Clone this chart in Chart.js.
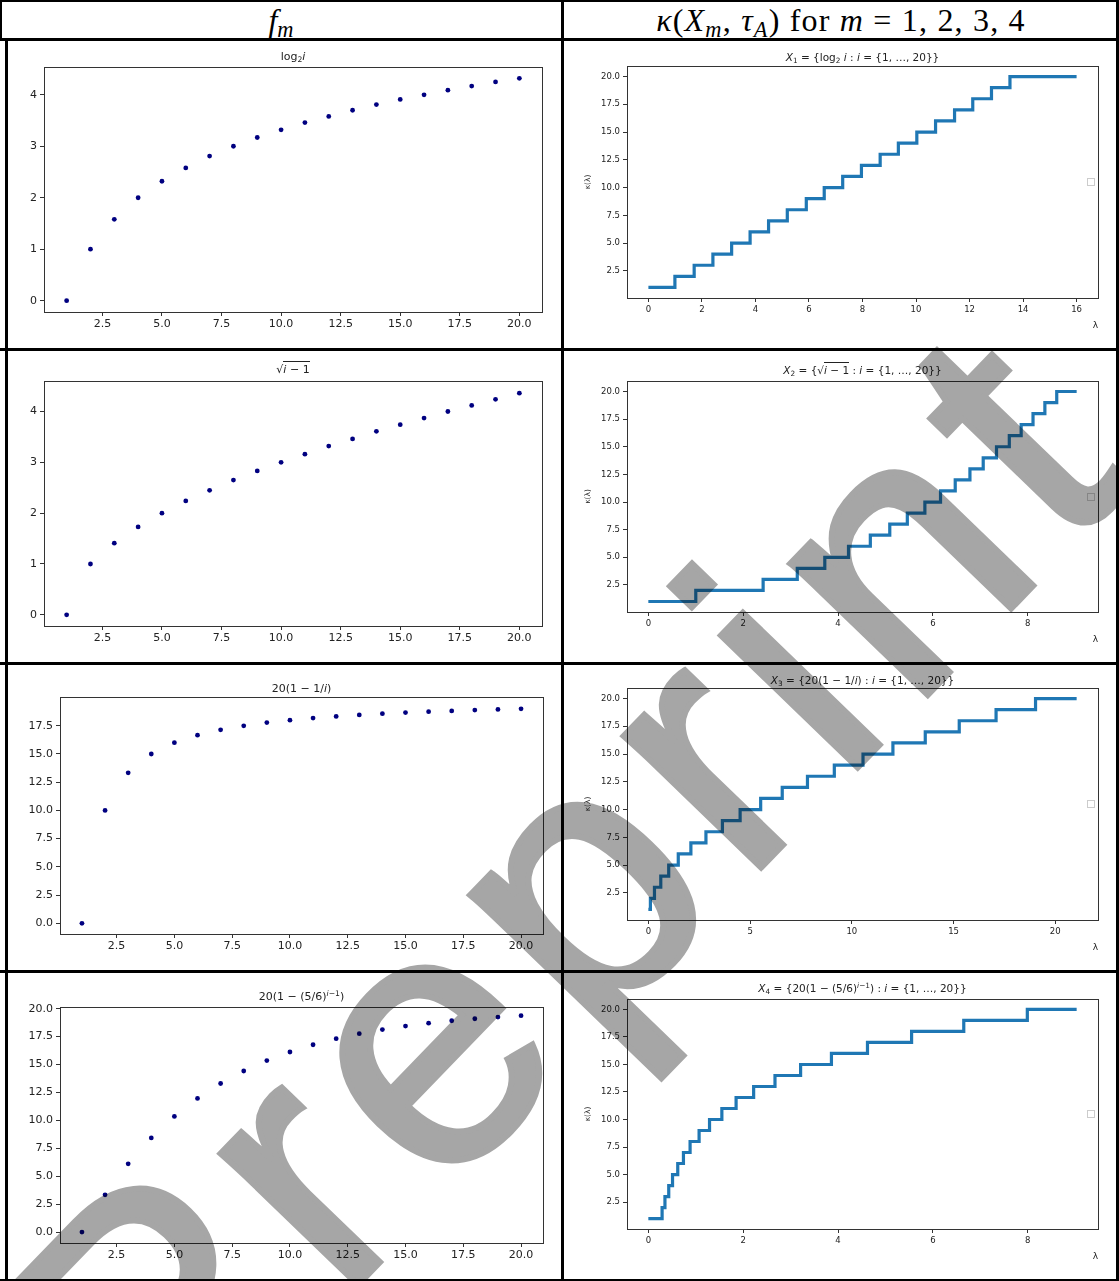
<!DOCTYPE html>
<html>
<head>
<meta charset="utf-8">
<title>f_m and kappa(X_m, tau_A)</title>
<script src="https://cdn.jsdelivr.net/npm/chart.js@4.4.1/dist/chart.umd.min.js"></script>
<style>
  html, body { margin: 0; padding: 0; background: #fff; }
  #page { position: relative; width: 1119px; height: 1281px; overflow: hidden; }
  #page canvas { position: absolute; }
  .rule { position: absolute; background: #000; }
  .hdr { position: absolute; top: 0; height: 40px; line-height: 40px; text-align: center;
         font-family: "Liberation Serif", serif; font-size: 32px; color: #000; }
  .hdr sub { font-size: 0.7em; vertical-align: -0.25em; line-height: 0; }
  .ttl { position: absolute; height: 14px; line-height: 14px; text-align: center; white-space: nowrap;
         font-family: "DejaVu Sans", sans-serif; color: #222; }
  .ttl sub, .ttl sup { font-size: 0.7em; line-height: 0; }
  .ttl sub { vertical-align: -0.3em; }
  .ttl sup { vertical-align: 0.55em; }
  .ov { border-top: 1px solid #222; padding-top: 1px; }
  #wm { position: absolute; left: 0; top: 0; pointer-events: none; mix-blend-mode: multiply; }
</style>
</head>
<body>
<div id="page">
  <div class="hdr" style="left:0;width:562px"><i>f</i><sub><i>m</i></sub></div>
  <div class="hdr" style="left:563px;width:556px;letter-spacing:1.2px"><i>κ</i>(<i>X</i><sub><i>m</i></sub>, <i>τ</i><sub><i>A</i></sub>) for <i>m</i> = 1, 2, 3, 4</div>
</div>
<script>
// index i and the four sequences f_m(i)
const iValues = [1, 2, 3, 4, 5, 6, 7, 8, 9, 10, 11, 12, 13, 14, 15, 16, 17, 18, 19, 20];
const fLog2 = [0, 1, 1.58, 2, 2.32, 2.58, 2.81, 3, 3.17, 3.32, 3.46, 3.58, 3.70, 3.81, 3.91, 4, 4.09, 4.17, 4.25, 4.32];
const fSqrt = [0, 1, 1.41, 1.73, 2, 2.24, 2.45, 2.65, 2.83, 3, 3.16, 3.32, 3.46, 3.61, 3.74, 3.87, 4, 4.12, 4.24, 4.36];
const fInv = [0, 10, 13.33, 15, 16, 16.67, 17.14, 17.5, 17.78, 18, 18.18, 18.33, 18.46, 18.57, 18.67, 18.75, 18.82, 18.89, 18.95, 19];
const fGeom = [0, 3.33, 6.11, 8.43, 10.35, 11.96, 13.30, 14.42, 15.35, 16.12, 16.77, 17.31, 17.76, 18.13, 18.44, 18.70, 18.92, 19.10, 19.25, 19.37];

// kappa(lambda) step curves: lambda where each level starts, and where the curve ends
const kappaLevels = [1, 2, 3, 4, 5, 6, 7, 8, 9, 10, 11, 12, 13, 14, 15, 16, 17, 18, 19, 20];
const stepsX1 = [0, 0.99, 1.71, 2.41, 3.11, 3.80, 4.49, 5.19, 5.90, 6.57, 7.26, 7.96, 8.66, 9.34, 10.03, 10.73, 11.44, 12.12, 12.82, 13.51];
const stepsX2 = [0, 1.00, 2.42, 3.14, 3.72, 4.22, 4.68, 5.09, 5.46, 5.83, 6.16, 6.47, 6.78, 7.06, 7.34, 7.61, 7.86, 8.11, 8.36, 8.61];
const stepsX3 = [0, 0.10, 0.30, 0.61, 1.0, 1.47, 2.09, 2.83, 3.64, 4.51, 5.52, 6.58, 7.82, 9.14, 10.55, 12.02, 13.61, 15.28, 17.09, 19.03];
const stepsX4 = [0, 0.29, 0.35, 0.43, 0.51, 0.62, 0.74, 0.88, 1.07, 1.29, 1.55, 1.85, 2.22, 2.67, 3.21, 3.86, 4.62, 5.55, 6.65, 7.99];
const lambdaEnd = [16.0, 9.03, 21.05, 9.03];

// tick labels
const xTicksLeft = [2.5, 5, 7.5, 10, 12.5, 15, 17.5, 20];
const yTicksLog = [0, 1, 2, 3, 4];
const yTicksInv = [0, 2.5, 5, 7.5, 10, 12.5, 15, 17.5];
const yTicksGeom = [0, 2.5, 5, 7.5, 10, 12.5, 15, 17.5, 20];
const yTicksKappa = [2.5, 5, 7.5, 10, 12.5, 15, 17.5, 20];
const xTicksR1 = [0, 2, 4, 6, 8, 10, 12, 14, 16];
const xTicksR2 = [0, 2, 4, 6, 8];
const xTicksR3 = [0, 5, 10, 15, 20];

const page = document.getElementById('page');

// table rules
[[0, 0, 1119, 2], [0, 38, 1119, 3], [0, 348, 1119, 3], [0, 662, 1119, 3], [0, 970, 1119, 3], [0, 1279, 1119, 2],
 [0, 0, 2, 41], [5, 38, 3, 1243], [561, 0, 3, 1281], [1116, 0, 3, 1281]].forEach(r => {
  const d = document.createElement('div');
  d.className = 'rule';
  d.style.cssText = `left:${r[0]}px;top:${r[1]}px;width:${r[2]}px;height:${r[3]}px`;
  page.appendChild(d);
});

const frame = {
  id: 'frame',
  afterDraw(chart, args, opts) {
    const { ctx, chartArea: a } = chart;
    ctx.save();
    ctx.strokeStyle = '#333';
    ctx.lineWidth = 1;
    ctx.strokeRect(Math.round(a.left) + 0.5, Math.round(a.top) + 0.5, Math.round(a.right - a.left), Math.round(a.bottom - a.top));
    if (opts.legendBox) {
      // empty matplotlib legend
      const cy = Math.round((a.top + a.bottom) / 2);
      ctx.strokeStyle = '#cccccc';
      ctx.strokeRect(Math.round(a.right) - 10.5, cy - 3.5, 7, 7);
    }
    ctx.restore();
  }
};

const panels = [
  { box: [9, 42, 551, 305], area: [44, 67, 542, 312], titleY: 57, title: 'log<sub>2</sub><i>i</i>',
    y: fLog2, xr: [0.05, 20.95], yr: [-0.22, 4.54], xt: xTicksLeft, yt: yTicksLog, yd: 0 },
  { box: [9, 351, 551, 310], area: [44, 381, 542, 626], titleY: 370, title: '√<span class="ov"><i>i</i> − 1</span>',
    y: fSqrt, xr: [0.05, 20.95], yr: [-0.22, 4.6], xt: xTicksLeft, yt: yTicksLog, yd: 0 },
  { box: [9, 665, 551, 304], area: [60, 697, 543, 934], titleY: 689, title: '20(1 − 1/<i>i</i>)',
    y: fInv, xr: [0.05, 20.95], yr: [-0.95, 20.05], xt: xTicksLeft, yt: yTicksInv, yd: 1 },
  { box: [9, 973, 551, 305], area: [60, 1007, 543, 1243], titleY: 997, title: '20(1 − (5/6)<sup><i>i</i>−1</sup>)',
    y: fGeom, xr: [0.05, 20.95], yr: [-0.98, 20.15], xt: xTicksLeft, yt: yTicksGeom, yd: 1 },
  { box: [565, 42, 550, 305], area: [627, 66, 1098, 298], titleY: 57, step: stepsX1, end: lambdaEnd[0],
    title: '<i>X</i><sub>1</sub> = {log<sub>2</sub> <i>i</i> :  <i>i</i> = {1, …, 20}}',
    xr: [-0.8, 16.8], xt: xTicksR1 },
  { box: [565, 351, 550, 310], area: [627, 381, 1098, 612], titleY: 370, step: stepsX2, end: lambdaEnd[1],
    title: '<i>X</i><sub>2</sub> = {√<span class="ov"><i>i</i> − 1</span> :  <i>i</i> = {1, …, 20}}',
    xr: [-0.45, 9.48], xt: xTicksR2 },
  { box: [565, 665, 550, 304], area: [627, 688, 1098, 920], titleY: 680, step: stepsX3, end: lambdaEnd[2],
    title: '<i>X</i><sub>3</sub> = {20(1 − 1/<i>i</i>) : <i>i</i> = {1, …, 20}}',
    xr: [-1.05, 22.1], xt: xTicksR3 },
  { box: [565, 973, 550, 305], area: [627, 999, 1098, 1229], titleY: 988, step: stepsX4, end: lambdaEnd[3],
    title: '<i>X</i><sub>4</sub> = {20(1 − (5/6)<sup><i>i</i>−1</sup>) : <i>i</i> = {1, …, 20}}',
    xr: [-0.45, 9.48], xt: xTicksR2 }
];

panels.forEach(p => {
  const isStep = !!p.step;
  const cv = document.createElement('canvas');
  cv.width = p.box[2];
  cv.height = p.box[3];
  cv.style.left = p.box[0] + 'px';
  cv.style.top = p.box[1] + 'px';
  page.appendChild(cv);

  const xH = isStep ? 34 : 22;
  const yW = p.area[0] - p.box[0];
  const tickFont = { family: 'DejaVu Sans', size: isStep ? 8.5 : 11 };
  const grid = { display: true, drawOnChartArea: false, drawTicks: true, tickLength: 4, color: '#333' };

  let data;
  if (isStep) {
    const pts = p.step.map((x, k) => ({ x: x, y: kappaLevels[k] }));
    pts.push({ x: p.end, y: kappaLevels[kappaLevels.length - 1] });
    data = { datasets: [{ data: pts, stepped: 'before', borderColor: '#1f77b4', borderWidth: 3.2,
      borderCapStyle: 'butt', borderJoinStyle: 'miter', pointRadius: 0, fill: false }] };
  } else {
    data = { datasets: [{ data: iValues.map((v, k) => ({ x: v, y: p.y[k] })),
      backgroundColor: '#000080', borderWidth: 0, pointRadius: 2.4 }] };
  }

  new Chart(cv, {
    type: isStep ? 'line' : 'scatter',
    data: data,
    plugins: [frame],
    options: {
      responsive: false,
      animation: false,
      events: [],
      layout: { padding: { left: 0, top: p.area[1] - p.box[1],
        right: p.box[0] + p.box[2] - p.area[2],
        bottom: p.box[1] + p.box[3] - p.area[3] - xH } },
      plugins: { legend: { display: false }, tooltip: { enabled: false }, frame: { legendBox: isStep } },
      scales: {
        x: {
          type: 'linear', min: p.xr[0], max: p.xr[1],
          grid: grid, border: { display: false },
          ticks: { font: tickFont, color: '#222', padding: isStep ? 3 : 2, autoSkip: false, maxRotation: 0,
            callback: v => isStep ? String(v) : v.toFixed(1) },
          title: { display: isStep, text: 'λ', align: 'end', color: '#222',
            font: { family: 'DejaVu Sans', size: 9 }, padding: { top: 0, bottom: 1 } },
          afterBuildTicks: s => { s.ticks = p.xt.map(v => ({ value: v })); },
          afterFit: s => { s.height = xH; s.paddingLeft = 0; s.paddingRight = 0; }
        },
        y: {
          type: 'linear', min: isStep ? 0.05 : p.yr[0], max: isStep ? 20.95 : p.yr[1],
          grid: grid, border: { display: false },
          ticks: { font: tickFont, color: '#222', padding: 3, autoSkip: false,
            callback: v => v.toFixed(isStep ? 1 : p.yd) },
          title: { display: isStep, text: 'κ(λ)', color: '#222',
            font: { family: 'DejaVu Sans', size: 7.5 }, padding: { top: 19, bottom: 0 } },
          afterBuildTicks: s => { s.ticks = (isStep ? yTicksKappa : p.yt).map(v => ({ value: v })); },
          afterFit: s => { s.width = yW; s.paddingTop = 0; s.paddingBottom = 0; }
        }
      }
    }
  });

  const t = document.createElement('div');
  t.className = 'ttl';
  t.style.left = p.area[0] + 'px';
  t.style.width = (p.area[2] - p.area[0]) + 'px';
  t.style.top = (p.titleY - 7) + 'px';
  t.style.fontSize = isStep ? '10.5px' : '11px';
  t.innerHTML = p.title;
  page.appendChild(t);
});

// "Preprint" watermark laid over the whole figure (multiply blend darkens what lies under it)
const svgNS = 'http://www.w3.org/2000/svg';
const wm = document.createElementNS(svgNS, 'svg');
wm.setAttribute('id', 'wm');
wm.setAttribute('width', '1119');
wm.setAttribute('height', '1281');
const txt = document.createElementNS(svgNS, 'text');
txt.setAttribute('x', '160');
txt.setAttribute('y', '1490');
txt.setAttribute('transform', 'rotate(-46 160 1490)');
txt.setAttribute('font-family', 'Liberation Sans, Arial, sans-serif');
txt.setAttribute('font-size', '360');
txt.setAttribute('letter-spacing', '20');
txt.setAttribute('fill', '#a6a6a6');
txt.setAttribute('stroke', '#a6a6a6');
txt.setAttribute('stroke-width', '6');
txt.setAttribute('stroke-linejoin', 'miter');
txt.textContent = 'Preprint';
wm.appendChild(txt);
page.appendChild(wm);
</script>
</body>
</html>
